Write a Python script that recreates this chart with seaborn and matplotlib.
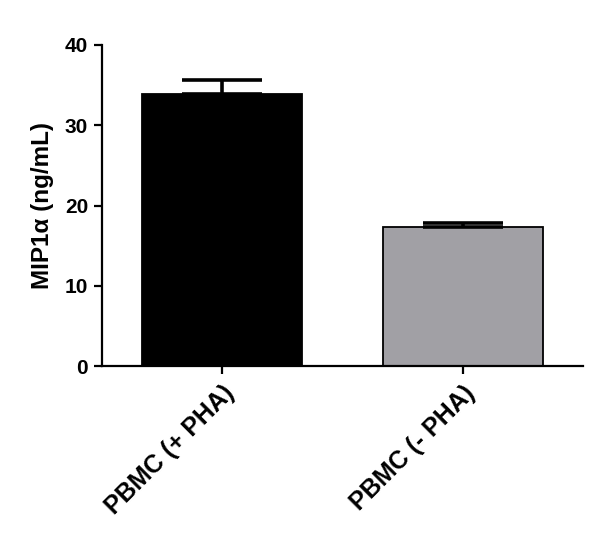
import matplotlib
matplotlib.use("Agg")
import matplotlib.pyplot as plt
import seaborn as sns
import pandas as pd
import numpy as np

categories = ["PBMC (+ PHA)", "PBMC (- PHA)"]
means = [33.9, 17.3]
errors = [1.7, 0.55]
bar_colors = ["#000000", "#A1A0A5"]
yticks = [0, 10, 20, 30, 40]

sns.set_theme(style="ticks")
plt.rcParams["font.family"] = ["Liberation Sans", "DejaVu Sans"]
plt.rcParams["text.color"] = "black"
plt.rcParams["axes.labelcolor"] = "black"
plt.rcParams["xtick.color"] = "black"
plt.rcParams["ytick.color"] = "black"

df = pd.DataFrame({"cat": categories, "val": means})

fig = plt.figure(figsize=(6, 5.55), dpi=100)
ax = fig.add_axes([102/600, 1-366/555, (583-102)/600, (366-45)/555])

sns.barplot(data=df, x="cat", y="val", hue="cat", palette=bar_colors,
            width=0.667, edgecolor="black", linewidth=1.3, errorbar=None,
            legend=False, ax=ax, saturation=1)

x = np.arange(len(categories))
ax.errorbar(x, means, yerr=[np.zeros(len(errors)), errors], fmt="none",
            ecolor="black", elinewidth=2.6, capsize=29, capthick=2.6, zorder=1)

ax.set_xlim(-0.5, 1.5)
ax.set_ylim(0, 40)
ax.set_yticks(yticks)
ax.set_yticklabels([str(t) for t in yticks], fontsize=15, fontweight="bold")
ax.set_xticks(x)
ax.set_xticklabels(categories, rotation=45, ha="right", rotation_mode="anchor",
                   fontsize=18, fontweight="bold")
ax.set_xlabel("")
ax.set_ylabel("MIP1α (ng/mL)", fontsize=17.5, fontweight="bold", labelpad=8)

for s in ["top", "right"]:
    ax.spines[s].set_visible(False)
for s in ["left", "bottom"]:
    ax.spines[s].set_linewidth(1.6)
    ax.spines[s].set_color("black")
ax.tick_params(axis="both", width=1.6, length=6, color="black",
               labelcolor="black")
ax.tick_params(axis="y", pad=4)
ax.tick_params(axis="x", pad=5)

fig.savefig("out.png", dpi=100)
